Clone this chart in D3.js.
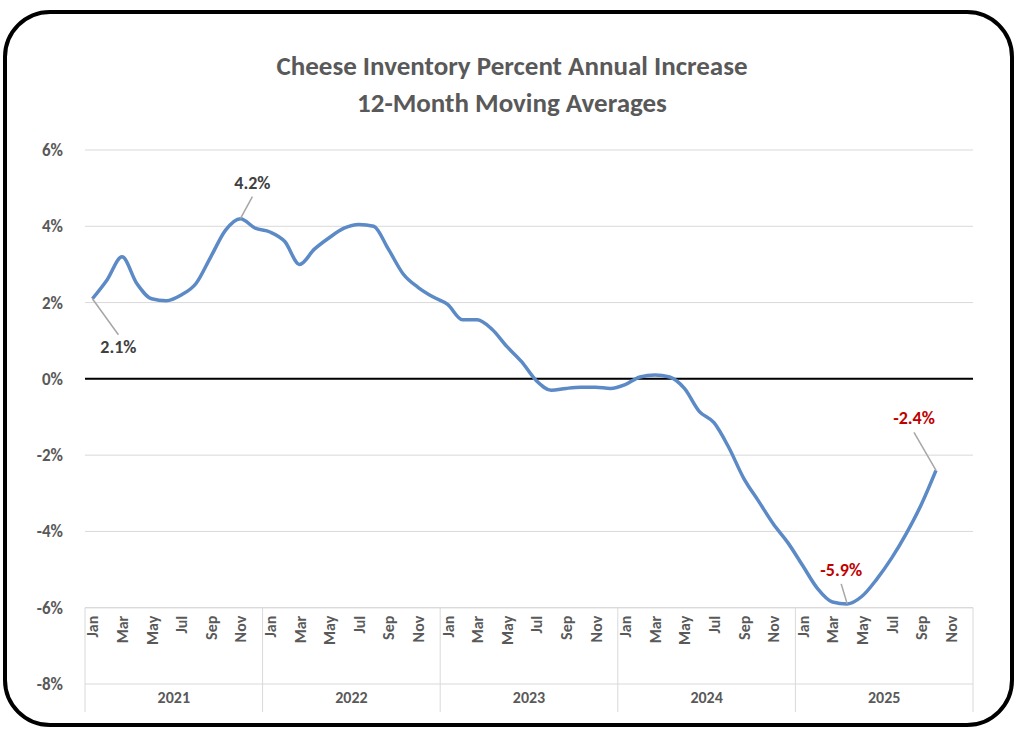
<!DOCTYPE html>
<meta charset="utf-8">
<style>
body{margin:0;background:#fff;font-family:Calibri,"Liberation Sans",Arial,sans-serif;}
.grid line{stroke:#d9d9d9;stroke-width:1px;}
text{fill:#595959;font-weight:bold;}
</style>
<body>
<script src="https://d3js.org/d3.v7.min.js"></script>
<script>
var years=["2021","2022","2023","2024","2025"];
var monthNames=["Jan","Feb","Mar","Apr","May","Jun","Jul","Aug","Sep","Oct","Nov","Dec"];
var yTicks=[6,4,2,0,-2,-4,-6,-8];
var values=[2.1,2.6,3.2,2.5,2.1,2.05,2.2,2.5,3.2,3.9,4.2,3.95,
            3.85,3.6,3.0,3.4,3.7,3.95,4.05,4.0,3.4,2.75,2.4,2.15,
            1.95,1.55,1.55,1.3,0.85,0.45,-0.05,-0.3,-0.25,-0.22,-0.22,-0.25,
            -0.15,0.05,0.1,0.05,-0.25,-0.85,-1.15,-1.8,-2.6,-3.2,-3.8,-4.3,
            -4.9,-5.5,-5.85,-5.9,-5.7,-5.25,-4.7,-4.05,-3.3,-2.4];
var callouts=[{i:0,t:"2.1%",dx:26,dy:-54,c:"#404040"},{i:10,t:"4.2%",dx:12,dy:-30,c:"#404040"},
              {i:51,t:"-5.9%",dx:-6,dy:-28,c:"#c00000"},{i:57,t:"-2.4%",dx:-22,dy:-46,c:"#c00000"}];

var W=1024,H=738,L=85,R=973,T=150,B=684;
var svg=d3.select("body").append("svg").attr("width",W).attr("height",H);
svg.append("rect").attr("x",5).attr("y",12).attr("width",1007).attr("height",713)
  .attr("rx",45).attr("fill","none").attr("stroke","#000").attr("stroke-width",4);
svg.append("text").attr("x",512).attr("y",75).attr("text-anchor","middle").attr("font-size",27)
  .text("Cheese Inventory Percent Annual Increase");
svg.append("text").attr("x",512).attr("y",112).attr("text-anchor","middle").attr("font-size",27)
  .text("12-Month Moving Averages");

var cats=[];years.forEach(function(y){monthNames.forEach(function(m){cats.push(y+"-"+m);});});
var x=d3.scaleBand().domain(cats).range([L,R]);
var y=d3.scaleLinear().domain([-8,6]).range([B,T]);

svg.append("g").attr("class","grid").selectAll("line").data(yTicks).enter().append("line")
  .attr("x1",L).attr("x2",R).attr("y1",function(d){return y(d);}).attr("y2",function(d){return y(d);});
svg.append("g").selectAll("text").data(yTicks).enter().append("text")
  .attr("x",L-22).attr("y",function(d){return y(d)+6;}).attr("text-anchor","end").attr("font-size",17)
  .text(function(d){return d+"%";});
svg.append("line").attr("x1",L).attr("x2",R).attr("y1",y(0)).attr("y2",y(0)).attr("stroke","#000").attr("stroke-width",2);

// category axis
var yearW=x.bandwidth()*12;
svg.append("g").selectAll("line").data(d3.range(6)).enter().append("line")
  .attr("x1",function(d){return L+d*yearW;}).attr("x2",function(d){return L+d*yearW;})
  .attr("y1",y(-6)).attr("y2",712).attr("stroke","#d9d9d9");
svg.append("line").attr("x1",L).attr("x2",R).attr("y1",y(-6)).attr("y2",y(-6)).attr("stroke","#d9d9d9");
svg.append("g").selectAll("text").data(cats.filter(function(c,i){return i%2==0;})).enter().append("text")
  .attr("transform",function(d){return "translate("+(x(d)+x.bandwidth()/2+6)+","+(y(-6)+8)+") rotate(-90)";})
  .attr("text-anchor","end").attr("font-size",16).text(function(d){return d.split("-")[1];});
svg.append("g").selectAll("text").data(years).enter().append("text")
  .attr("x",function(d,i){return L+(i+0.5)*yearW;}).attr("y",703).attr("text-anchor","middle").attr("font-size",16)
  .text(function(d){return d;});

var px=function(i){return x(cats[i])+x.bandwidth()/2;};
svg.append("path").datum(values).attr("fill","none").attr("stroke","#5b8ac6").attr("stroke-width",3.5)
  .attr("d",d3.line().x(function(d,i){return px(i);}).y(function(d){return y(d);}).curve(d3.curveMonotoneX));

callouts.forEach(function(c){
  var x0=px(c.i),y0=y(values[c.i]),tx=x0+c.dx,ty=y0+c.dy;
  var lineY=c.dy<0?ty+8:ty-18;
  if(c.i==0){ty=y0+54;lineY=ty-18;}
  svg.append("line").attr("x1",x0).attr("y1",y0).attr("x2",tx).attr("y2",lineY).attr("stroke","#a6a6a6").attr("stroke-width",1.5);
  svg.append("text").attr("x",tx).attr("y",ty).attr("text-anchor","middle").attr("font-size",18)
    .style("fill",c.c).text(c.t);
});
</script>
</body>
